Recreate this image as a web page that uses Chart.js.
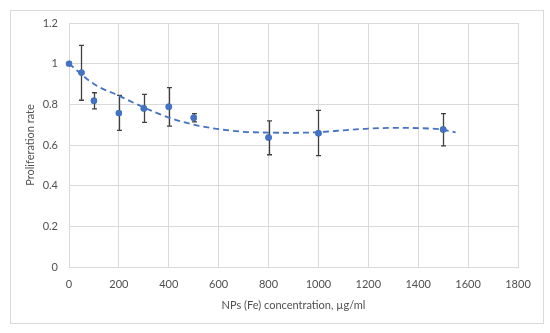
<!DOCTYPE html>
<html><head><meta charset="utf-8">
<script src="https://cdn.jsdelivr.net/npm/chart.js@4.4.1/dist/chart.umd.min.js"></script>
<style>html,body{margin:0;padding:0;background:#fff}#wrap{width:550px;height:333px;position:relative}</style>
</head><body><div id="wrap"><canvas id="c" width="550" height="333"></canvas></div>
<script>
const concentrations = [0, 50, 100, 200, 300, 400, 500, 800, 1000, 1500];
const proliferation = [1.0, 0.956, 0.818, 0.757, 0.78, 0.788, 0.734, 0.637, 0.658, 0.676];
const errUpper = [1.0, 1.09, 0.857, 0.844, 0.849, 0.882, 0.754, 0.719, 0.77, 0.754];
const errLower = [1.0, 0.82, 0.778, 0.672, 0.711, 0.693, 0.714, 0.552, 0.548, 0.596];
const trendX = [0, 100, 200, 300, 400, 500, 600, 700, 800, 900, 1000, 1100, 1200, 1300, 1400, 1500, 1550];
const trendY = [1.0, 0.90, 0.842, 0.785, 0.735, 0.70, 0.678, 0.665, 0.661, 0.66, 0.663, 0.672, 0.681, 0.684, 0.683, 0.675, 0.662];
const xTicks = [0, 200, 400, 600, 800, 1000, 1200, 1400, 1600, 1800];
const yTicks = [0, 0.2, 0.4, 0.6, 0.8, 1, 1.2];

const FONT = 'Lato';
const TXT = '#505050';
const GRID = '#d9d9d9';
const BLUE = '#4472C4';

const errorBars = {
  id: 'errorBars',
  afterDatasetDraw(chart, args) {
    if (args.index !== 1) return;
    const ctx = chart.ctx, xs = chart.scales.x, ys = chart.scales.y;
    ctx.save();
    ctx.strokeStyle = '#404040';
    ctx.lineWidth = 1.3;
    concentrations.forEach((c, i) => {
      if (errUpper[i] === errLower[i]) return;
      const x = Math.round(xs.getPixelForValue(c)) + 0.5;
      const yt = ys.getPixelForValue(errUpper[i]);
      const yb = ys.getPixelForValue(errLower[i]);
      ctx.beginPath();
      ctx.moveTo(x, yt); ctx.lineTo(x, yb);
      ctx.moveTo(x - 2.5, yt); ctx.lineTo(x + 2.5, yt);
      ctx.moveTo(x - 2.5, yb); ctx.lineTo(x + 2.5, yb);
      ctx.stroke();
    });
    ctx.restore();
    const meta = chart.getDatasetMeta(1);
    meta.data.forEach(p => p.draw(ctx, chart.chartArea));
  }
};
const frame = {
  id: 'frame',
  afterDraw(chart) {
    const ctx = chart.ctx;
    ctx.save();
    ctx.strokeStyle = GRID; ctx.lineWidth = 1;
    ctx.strokeRect(10.5, 10.5, 533, 313);
    ctx.restore();
  }
};

new Chart(document.getElementById('c'), {
  type: 'scatter',
  data: {
    datasets: [
      {
        type: 'line',
        data: trendX.map((x, i) => ({x, y: trendY[i]})),
        borderColor: BLUE, borderWidth: 1.8, borderDash: [6, 4],
        pointRadius: 0, tension: 0.4, fill: false, cubicInterpolationMode: 'monotone'
      },
      {
        data: concentrations.map((x, i) => ({x, y: proliferation[i]})),
        backgroundColor: BLUE, borderColor: BLUE, pointRadius: 3.2, borderWidth: 0
      }
    ]
  },
  options: {
    responsive: false, animation: false, devicePixelRatio: 1,
    layout: {padding: {left: 0, right: 32, top: 23, bottom: 0}},
    plugins: {legend: {display: false}, tooltip: {enabled: false}},
    scales: {
      x: {
        type: 'linear', min: 0, max: 1800,
        afterBuildTicks: s => { s.ticks = xTicks.map(v => ({value: v})); },
        afterFit: s => { s.height = 66; },
        grid: {color: GRID, drawTicks: false},
        border: {color: GRID},
        ticks: {color: TXT, font: {family: FONT, size: 11}, padding: 11, maxRotation: 0, callback: v => String(v)},
        title: {display: true, text: 'NPs (Fe) concentration, µg/ml', color: TXT, font: {family: FONT, size: 11}, padding: {top: 0, bottom: 21}}
      },
      y: {
        min: 0, max: 1.2,
        afterBuildTicks: s => { s.ticks = yTicks.map(v => ({value: v})); },
        afterFit: s => { s.width = 69; },
        grid: {color: GRID, drawTicks: false},
        border: {color: GRID},
        ticks: {color: TXT, font: {family: FONT, size: 11}, padding: 11, callback: v => String(Math.round(v * 10) / 10)},
        title: {display: true, text: 'Proliferation rate', color: TXT, font: {family: FONT, size: 11}, padding: {top: 24, bottom: 0}}
      }
    }
  },
  plugins: [errorBars, frame]
});
</script></body></html>
